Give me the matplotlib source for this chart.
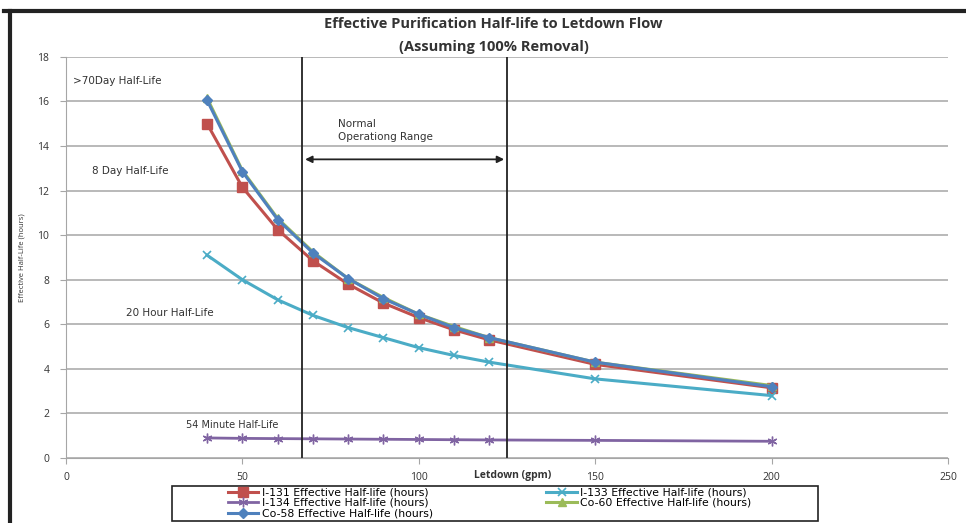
import matplotlib
matplotlib.use("Agg")
import matplotlib.pyplot as plt
from matplotlib.lines import Line2D
from matplotlib.patches import Rectangle

flow = [40, 50, 60, 70, 80, 90, 100, 110, 120, 150, 200]
i131 = [15.0, 12.15, 10.25, 8.85, 7.8, 6.95, 6.3, 5.75, 5.3, 4.2, 3.15]
i133 = [9.1, 8.0, 7.1, 6.4, 5.85, 5.4, 4.95, 4.6, 4.3, 3.55, 2.8]
i134 = [0.9, 0.88, 0.87, 0.86, 0.85, 0.84, 0.83, 0.82, 0.81, 0.79, 0.75]
co60 = [16.15, 12.9, 10.75, 9.25, 8.05, 7.2, 6.45, 5.9, 5.4, 4.3, 3.25]
co58 = [16.05, 12.85, 10.7, 9.2, 8.05, 7.15, 6.45, 5.85, 5.4, 4.3, 3.2]

range_lo, range_hi = 67, 125

plt.rcParams['font.family'] = ['Open Sans', 'DejaVu Sans']

fig = plt.figure(figsize=(9.66, 5.23), dpi=100)
ax = fig.add_axes([0.0683, 0.1243, 0.913, 0.767])

grey = '#a6a6a6'
ax.set_xlim(0, 250)
ax.set_ylim(0, 18)
ax.set_xticks(range(0, 251, 50))
ax.set_yticks(range(0, 19, 2))
ax.grid(axis='y', color=grey, linewidth=1.1)
ax.set_axisbelow(True)
for s in ['top', 'right']:
    ax.spines[s].set_visible(False)
for s in ['left', 'bottom']:
    ax.spines[s].set_color(grey)
ax.tick_params(colors=grey, labelcolor='#333333', labelsize=7.5, length=4)
ax.tick_params(axis='x', pad=6)
ax.tick_params(axis='y', pad=8)

l1, = ax.plot(flow, i131, color='#C0504D', marker='s', ms=7, lw=2.2, label='I-131 Effective Half-life (hours)')
l2, = ax.plot(flow, i133, color='#4BACC6', marker='x', ms=6, mew=1.2, lw=2.2, label='I-133 Effective Half-life (hours)')
l3, = ax.plot(flow, i134, color='#8064A2', marker=(6, 2, 0), ms=7, mew=1, lw=2, label='I-134 Effective Half-life (hours)')
l4, = ax.plot(flow, co60, color='#9BBB59', marker='^', ms=6, lw=2.2, label='Co-60 Effective Half-life (hours)')
l5, = ax.plot(flow, co58, color='#4F81BD', marker='D', ms=5, lw=2.2, label='Co-58 Effective Half-life (hours)')

ax.axvline(range_lo, color='#222222', lw=1.3)
ax.axvline(range_hi, color='#222222', lw=1.3)
ax.annotate('', xy=(range_lo, 13.4), xytext=(range_hi, 13.4),
            arrowprops=dict(arrowstyle='<|-|>', color='#222222', lw=1.3, mutation_scale=10))
ax.text(77, 14.7, 'Normal\nOperationg Range', fontsize=7.5, color='#333333',
        family='DejaVu Sans', va='center', linespacing=1.4)

ax.text(2, 16.9, '>70Day Half-Life', fontsize=7.5, family='DejaVu Sans', color='#333333', va='center')
ax.text(7.5, 12.9, '8 Day Half-Life', fontsize=7.5, family='DejaVu Sans', color='#333333', va='center')
ax.text(17, 6.5, '20 Hour Half-Life', fontsize=7.5, family='DejaVu Sans', color='#333333', va='center')
ax.text(34, 1.5, '54 Minute Half-Life', fontsize=7, family='DejaVu Sans', color='#333333', va='center')

fig.text(0.511, 0.955, 'Effective Purification Half-life to Letdown Flow',
         ha='center', va='center', fontsize=10.5, fontweight='bold', color='#333333')
fig.text(0.511, 0.91, '(Assuming 100% Removal)',
         ha='center', va='center', fontsize=10.5, fontweight='bold', color='#333333')
fig.text(0.531, 0.09, 'Letdown (gpm)', ha='center', va='center', fontsize=7.5,
         fontweight='bold', color='#333333')
fig.text(0.023, 0.508, 'Effective Half-Life (hours)', rotation=90, ha='center',
         va='center', fontsize=5.5, color='#333333')

handles = [l1, l3, l5, l2, l4]
fig.legend(handles, [h.get_label() for h in handles],
           ncol=2, loc='upper left', bbox_to_anchor=(0.236, 0.068),
           prop={'family': 'DejaVu Sans', 'size': 7.8}, frameon=False,
           handlelength=2.8, labelspacing=0.05, columnspacing=10.5,
           borderpad=0, borderaxespad=0, handletextpad=0.3)
fig.add_artist(Rectangle((0.178, 0.004), 0.669, 0.067, transform=fig.transFigure,
                         fill=False, edgecolor='#222222', lw=1.2))

fig.add_artist(Line2D([0.004, 1.0], [0.979, 0.979], color='#222222', lw=3, transform=fig.transFigure))
fig.add_artist(Line2D([0.0105, 0.0105], [0.0, 0.979], color='#222222', lw=3, transform=fig.transFigure))

fig.savefig('out.png', dpi=100)
